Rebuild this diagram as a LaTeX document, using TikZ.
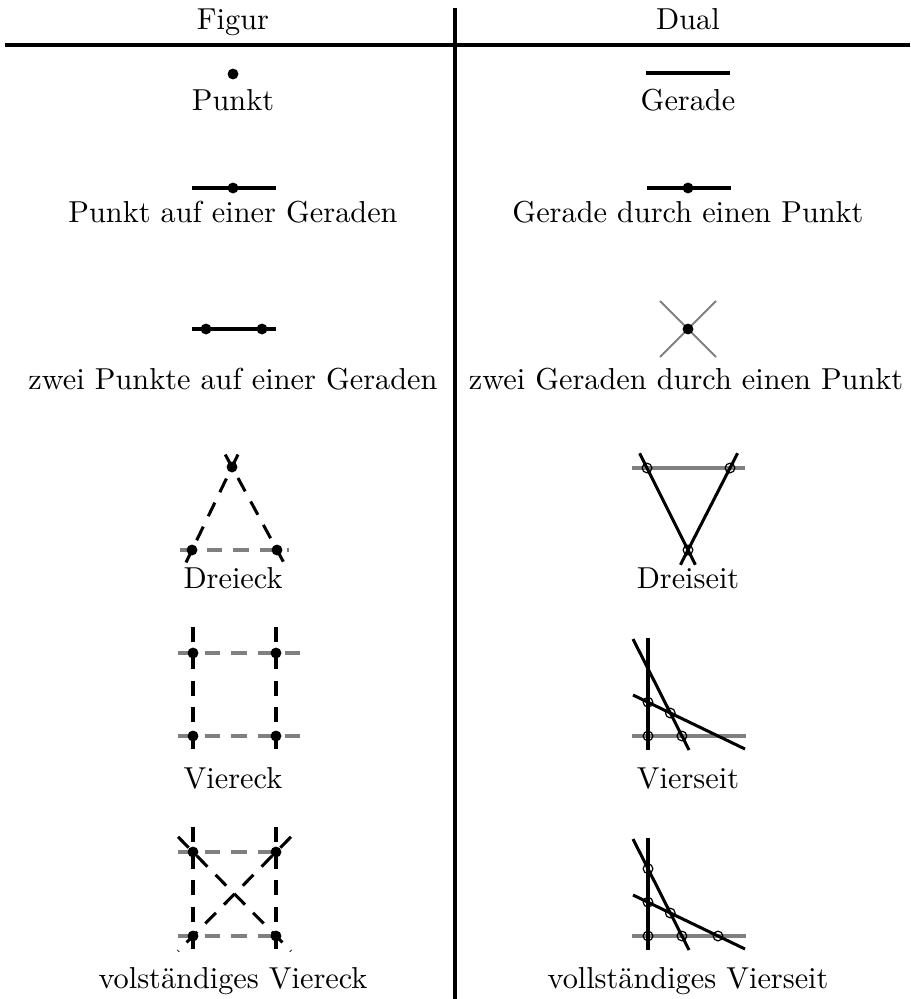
\documentclass[tikz,border=0pt]{standalone}
\usetikzlibrary{calc}
\begin{document}
\begin{tikzpicture}[x=0.33pt,y=-0.33pt,
		txt/.style={anchor=base, inner sep=0pt},
		gerade/.style={line width=1pt},
		hilf/.style={line width=1pt, gray},
		duenn/.style={line width=0.6pt, gray},
		gestr/.style={dash pattern=on 5pt off 3.8pt},
		kreis/.style={line width=0.4pt}]
	\useasboundingbox (0,0) rectangle (910,999);
	% kopf
	\node[txt] (kopfL) at (233,30) {Figur};
	\node[txt] (kopfR) at (688,30) {Dual};
	\coordinate (hA) at (5,45);
	\coordinate (hB) at (910,45);
	\coordinate (vA) at (455,8);
	\coordinate (vB) at (455,999);
	\draw[gerade] (hA) -- (hB);
	\draw[gerade] (vA) -- (vB);
	% punkt / gerade
	\coordinate (P) at (233,74);
	\fill (P) circle (1.8pt);
	\node[txt] (tPunkt) at (233,110) {Punkt};
	\coordinate (gA) at (646,73);
	\coordinate (gB) at (730,73);
	\draw[gerade] (gA) -- (gB);
	\node[txt] (tGerade) at (688,110) {Gerade};
	% punkt auf gerade / gerade durch punkt
	\coordinate (aA) at (192,188);
	\coordinate (aB) at (276,188);
	\coordinate (aP) at (233,188);
	\draw[gerade] (aA) -- (aB);
	\fill (aP) circle (1.8pt);
	\node[txt] (tAuf) at (233,222) {Punkt auf einer Geraden};
	\coordinate (dA) at (647,188);
	\coordinate (dB) at (731,188);
	\coordinate (dP) at (688,188);
	\draw[gerade] (dA) -- (dB);
	\fill (dP) circle (1.8pt);
	\node[txt] (tDurch) at (688,222) {Gerade durch einen Punkt};
	% zwei punkte / zwei geraden
	\coordinate (zA) at (192,329);
	\coordinate (zB) at (276,329);
	\coordinate (zP1) at (206,329);
	\coordinate (zP2) at (262,329);
	\draw[gerade] (zA) -- (zB);
	\foreach \p in {zP1,zP2} \fill (\p) circle (1.8pt);
	\node[txt] (tZweiP) at (233,389) {zwei Punkte auf einer Geraden};
	\coordinate (xA) at (660,301);
	\coordinate (xB) at (716,357);
	\coordinate (xC) at (716,301);
	\coordinate (xD) at (660,357);
	\coordinate (xP) at (688,329);
	\draw[duenn] (xA) -- (xB) (xC) -- (xD);
	\fill (xP) circle (1.8pt);
	\node[txt] (tZweiG) at (686,389) {zwei Geraden durch einen Punkt};
	% dreieck
	\coordinate (dr1) at (232,467);
	\coordinate (dr2) at (192,550);
	\coordinate (dr3) at (277,550);
	\draw[hilf,gestr] ($(dr2)!-0.14!(dr3)$) -- ($(dr3)!-0.14!(dr2)$);
	\draw[gerade,gestr] ($(dr1)!-0.15!(dr2)$) -- ($(dr2)!-0.15!(dr1)$);
	\draw[gerade,gestr] ($(dr1)!-0.15!(dr3)$) -- ($(dr3)!-0.15!(dr1)$);
	\foreach \p in {dr1,dr2,dr3} \fill (\p) circle (1.8pt);
	\node[txt] (tDreieck) at (233,588) {Dreieck};
	% dreiseit
	\coordinate (ds1) at (647,468);
	\coordinate (ds2) at (730,468);
	\coordinate (ds3) at (688,550);
	\draw[hilf] ($(ds1)!-0.18!(ds2)$) -- ($(ds2)!-0.18!(ds1)$);
	\draw[gerade] ($(ds1)!-0.18!(ds3)$) -- ($(ds3)!-0.18!(ds1)$);
	\draw[gerade] ($(ds2)!-0.18!(ds3)$) -- ($(ds3)!-0.18!(ds2)$);
	\foreach \p in {ds1,ds2,ds3} \draw[kreis] (\p) circle (1.6pt);
	\node[txt] (tDreiseit) at (688,588) {Dreiseit};
	% viereck
	\coordinate (v1) at (193,653);
	\coordinate (v2) at (276,653);
	\coordinate (v3) at (193,736);
	\coordinate (v4) at (276,736);
	\draw[hilf,gestr] ($(v1)!-0.18!(v2)$) -- ($(v2)!-0.32!(v1)$);
	\draw[hilf,gestr] ($(v3)!-0.18!(v4)$) -- ($(v4)!-0.32!(v3)$);
	\draw[gerade,gestr] ($(v1)!-0.31!(v3)$) -- ($(v3)!-0.17!(v1)$);
	\draw[gerade,gestr] ($(v2)!-0.31!(v4)$) -- ($(v4)!-0.17!(v2)$);
	\foreach \p in {v1,v2,v3,v4} \fill (\p) circle (1.8pt);
	\node[txt] (tViereck) at (233,788) {Viereck};
	% vierseit
	\coordinate (vsO) at (648,638);
	\coordinate (vsU) at (648,750);
	\coordinate (hsL) at (632,736);
	\coordinate (hsR) at (746,736);
	\coordinate (stA) at (633,639);
	\coordinate (stB) at (689,750);
	\coordinate (flA) at (633,695);
	\coordinate (flB) at (745,749);
	\draw[hilf] (hsL) -- (hsR);
	\draw[gerade] (vsO) -- (vsU);
	\draw[gerade] (stA) -- (stB);
	\draw[gerade] (flA) -- (flB);
	\coordinate (s1) at (648,702.2);
	\coordinate (s2) at (670.3,713);
	\coordinate (s3) at (648,736);
	\coordinate (s4) at (681.9,736);
	\foreach \p in {s1,s2,s3,s4} \draw[kreis] (\p) circle (1.6pt);
	\node[txt] (tVierseit) at (688,788) {Vierseit};
	% vollstaendiges viereck
	\coordinate (w1) at (193,852);
	\coordinate (w2) at (276,852);
	\coordinate (w3) at (193,936);
	\coordinate (w4) at (276,936);
	\draw[hilf,gestr] ($(w1)!-0.18!(w2)$) -- (w2);
	\draw[hilf,gestr] ($(w3)!-0.18!(w4)$) -- (w4);
	\draw[gerade,gestr] ($(w1)!-0.30!(w3)$) -- ($(w3)!-0.17!(w1)$);
	\draw[gerade,gestr] ($(w2)!-0.30!(w4)$) -- ($(w4)!-0.17!(w2)$);
	\draw[gerade,gestr] ($(w1)!-0.18!(w4)$) -- ($(w4)!-0.18!(w1)$);
	\draw[gerade,gestr] ($(w2)!-0.18!(w3)$) -- ($(w3)!-0.18!(w2)$);
	\foreach \p in {w1,w2,w3,w4} \fill (\p) circle (1.8pt);
	\node[txt] (tVollVE) at (233,988) {volständiges Viereck};
	% vollstaendiges vierseit
	\coordinate (wsO) at (648,838);
	\coordinate (wsU) at (648,950);
	\coordinate (hwL) at (632,936);
	\coordinate (hwR) at (746,936);
	\coordinate (swA) at (633,839);
	\coordinate (swB) at (689,950);
	\coordinate (fwA) at (633,895);
	\coordinate (fwB) at (745,949);
	\draw[hilf] (hwL) -- (hwR);
	\draw[gerade] (wsO) -- (wsU);
	\draw[gerade] (swA) -- (swB);
	\draw[gerade] (fwA) -- (fwB);
	\coordinate (t1) at (648,868.7);
	\coordinate (t2) at (648,902.2);
	\coordinate (t3) at (670.3,913);
	\coordinate (t4) at (648,936);
	\coordinate (t5) at (681.9,936);
	\coordinate (t6) at (718,936);
	\foreach \p in {t1,t2,t3,t4,t5,t6} \draw[kreis] (\p) circle (1.6pt);
	\node[txt] (tVollVS) at (688,988) {vollständiges Vierseit};
\end{tikzpicture}
\end{document}
